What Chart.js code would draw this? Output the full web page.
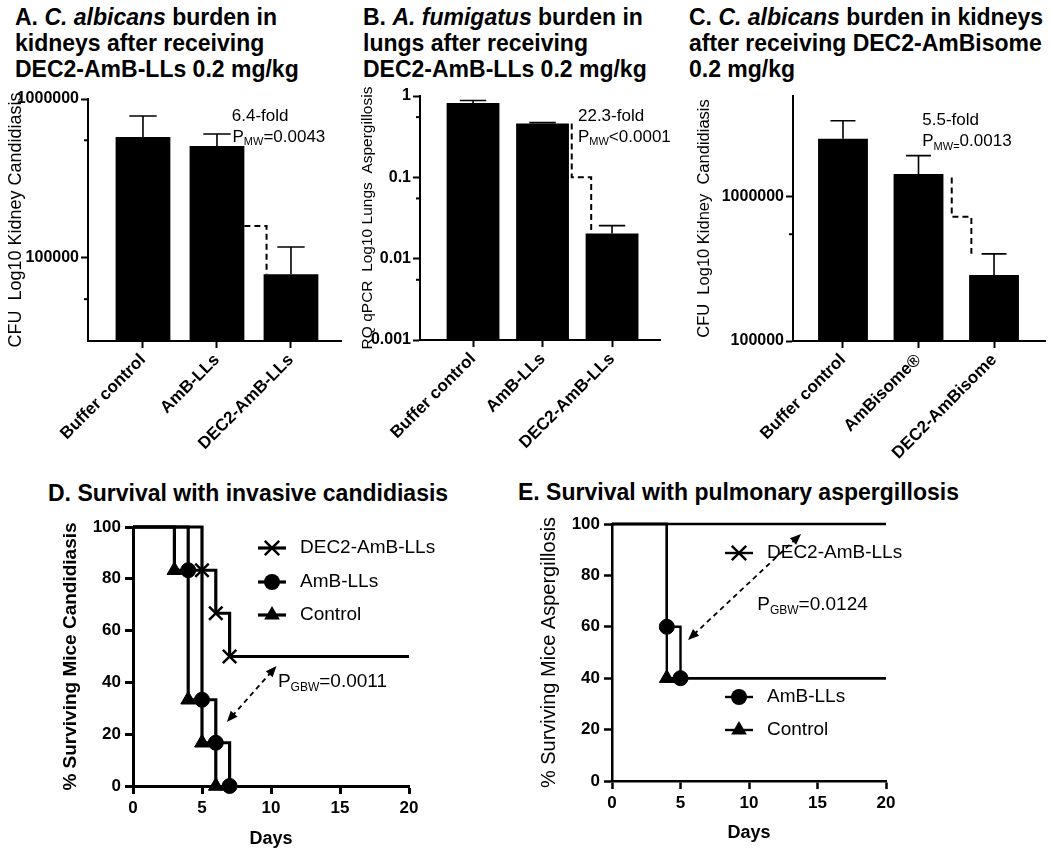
<!DOCTYPE html>
<html>
<head>
<meta charset="utf-8">
<script src="https://cdn.jsdelivr.net/npm/chart.js@4.4.1/dist/chart.umd.min.js"></script>
<style>
  body { margin: 0; background: #fff; }
  #wrap { position: relative; width: 1050px; height: 852px; overflow: hidden; background: #fff;
          font-family: 'Liberation Sans', Arial, sans-serif; color: #000; }
  .ttl { position: absolute; font-weight: bold; font-size: 23px; line-height: 26px; white-space: nowrap; }
  canvas { position: absolute; }
</style>
</head>
<body>
<div id="wrap">
  <div class="ttl" style="left:15px;top:4px">A. <i>C. albicans</i> burden in<br>kidneys after receiving<br>DEC2-AmB-LLs 0.2 mg/kg</div>
  <div class="ttl" style="left:363px;top:4px">B. <i>A. fumigatus</i> burden in<br>lungs after receiving<br>DEC2-AmB-LLs 0.2 mg/kg</div>
  <div class="ttl" style="left:689px;top:4px">C. <i>C. albicans</i> burden in kidneys<br>after receiving DEC2-AmBisome<br>0.2 mg/kg</div>
  <div class="ttl" style="left:48px;top:480px">D. Survival with invasive candidiasis</div>
  <div class="ttl" style="left:518px;top:479px">E. Survival with pulmonary aspergillosis</div>

  <canvas id="chartA" width="350" height="385" style="left:0;top:80px"></canvas>
  <canvas id="chartB" width="340" height="385" style="left:350px;top:80px"></canvas>
  <canvas id="chartC" width="360" height="385" style="left:690px;top:80px"></canvas>
  <canvas id="chartD" width="520" height="347" style="left:0;top:505px"></canvas>
  <canvas id="chartE" width="530" height="347" style="left:520px;top:505px"></canvas>
</div>

<script>
// bar panels: group labels, bar means, top of error bars
const groupsA = ['Buffer control', 'AmB-LLs', 'DEC2-AmB-LLs'];
const meanA = [577000, 506000, 79000];
const errA = [782000, 602000, 117000];

const groupsB = ['Buffer control', 'AmB-LLs', 'DEC2-AmB-LLs'];
const meanB = [0.82, 0.46, 0.0204];
const errB = [0.88, 0.47, 0.0255];

const groupsC = ['Buffer control', 'AmBisome®', 'DEC2-AmBisome'];
const meanC = [2530000, 1440000, 287000];
const errC = [3370000, 1930000, 402000];

// y tick values of the log axes
const ticksA = [100000, 1000000];
const minorA = [55000, 550000];
const ticksB = [0.001, 0.01, 0.1, 1];
const minorB = [0.0055, 0.055, 0.55];
const ticksC = [100000, 1000000];
const minorC = [550000];

// survival curves (days, % surviving)
const dDecDays = [0, 5, 6, 7, 20];
const dDecSurv = [100, 83.3, 66.7, 50, 50];
const dAmbDays = [0, 4, 5, 6, 7];
const dAmbSurv = [100, 83.3, 33.3, 16.7, 0];
const dCtlDays = [0, 3, 4, 5, 6];
const dCtlSurv = [100, 83.3, 33.3, 16.7, 0];

const eDecDays = [0, 20];
const eDecSurv = [100, 100];
const eAmbDays = [0, 4, 5, 20];
const eAmbSurv = [100, 60, 40, 40];
const eCtlDays = [0, 4, 20];
const eCtlSurv = [100, 40, 40];

const FONT = "'Liberation Sans', Arial, sans-serif";
Chart.defaults.font.family = FONT;
Chart.defaults.color = '#000';

// text with subscripts: parts = [[text, isSub], ...]
function drawParts(ctx, x, y, parts, size) {
  let cx = x;
  ctx.textAlign = 'left';
  ctx.textBaseline = 'middle';
  parts.forEach(([t, sub]) => {
    ctx.font = (sub ? Math.round(size * 0.62) : size) + 'px ' + FONT;
    ctx.fillText(t, cx, sub ? y + size * 0.3 : y);
    cx += ctx.measureText(t).width;
  });
}

function marker(ctx, style, x, y, r) {
  ctx.beginPath();
  if (style === 'circle') {
    ctx.arc(x, y, r, 0, Math.PI * 2);
    ctx.fill();
  } else if (style === 'triangle') {
    ctx.moveTo(x, y - r);
    ctx.lineTo(x + r * 0.87, y + r * 0.5);
    ctx.lineTo(x - r * 0.87, y + r * 0.5);
    ctx.closePath();
    ctx.fill();
  } else {
    const d = r * 0.72;
    ctx.moveTo(x - d, y - d); ctx.lineTo(x + d, y + d);
    ctx.moveTo(x + d, y - d); ctx.lineTo(x - d, y + d);
    ctx.stroke();
  }
}

const barExtras = {
  id: 'barExtras',
  afterDatasetsDraw(chart, args, o) {
    const { ctx } = chart;
    const xs = chart.scales.x, ys = chart.scales.y;
    const unit = xs.getPixelForValue(1) - xs.getPixelForValue(0);
    ctx.save();
    ctx.strokeStyle = '#000';
    ctx.fillStyle = '#000';
    // error bars (upper only)
    ctx.lineWidth = 1.6;
    o.errs.forEach((e, i) => {
      const px = xs.getPixelForValue(i);
      const top = ys.getPixelForValue(e);
      const base = ys.getPixelForValue(o.means[i]);
      const cap = unit * o.bar / 4;
      ctx.beginPath();
      ctx.moveTo(px, base); ctx.lineTo(px, top);
      ctx.moveTo(px - cap, top); ctx.lineTo(px + cap, top);
      ctx.stroke();
    });
    // minor ticks
    ctx.lineWidth = 2;
    o.minor.forEach(v => {
      const py = ys.getPixelForValue(v);
      ctx.beginPath();
      ctx.moveTo(chart.chartArea.left - 4, py); ctx.lineTo(chart.chartArea.left, py);
      ctx.stroke();
    });
    // dashed bracket
    const b = o.bracket;
    ctx.setLineDash([6, 4]);
    ctx.lineWidth = 2;
    ctx.beginPath();
    ctx.moveTo(xs.getPixelForValue(b.x1), ys.getPixelForValue(b.y1));
    ctx.lineTo(xs.getPixelForValue(b.x1), ys.getPixelForValue(b.y2));
    ctx.lineTo(xs.getPixelForValue(b.x2), ys.getPixelForValue(b.y2));
    ctx.lineTo(xs.getPixelForValue(b.x2), ys.getPixelForValue(b.y3));
    ctx.stroke();
    ctx.setLineDash([]);
    o.notes.forEach(n => drawParts(ctx, xs.getPixelForValue(n.x), ys.getPixelForValue(n.y), n.parts, 17));
    ctx.restore();
  }
};

function barChart(id, groups, means, errs, cfg) {
  new Chart(document.getElementById(id), {
    type: 'bar',
    data: {
      datasets: [{
        data: means.map((v, i) => ({ x: i, y: v })),
        backgroundColor: '#000',
        borderWidth: 0,
        barPercentage: cfg.bar,
        categoryPercentage: 1
      }]
    },
    options: {
      responsive: false,
      animation: false,
      devicePixelRatio: 1,
      layout: { padding: { left: 0, right: cfg.padR, top: cfg.padT, bottom: 0 } },
      plugins: {
        legend: { display: false },
        tooltip: { enabled: false },
        barExtras: { means: means, errs: errs, bar: cfg.bar, minor: cfg.minor, bracket: cfg.bracket, notes: cfg.notes }
      },
      scales: {
        x: {
          type: 'linear',
          min: cfg.xMin, max: cfg.xMax,
          offset: false,
          afterFit: s => { s.height = cfg.xH; },
          afterBuildTicks: s => { s.ticks = groups.map((g, i) => ({ value: i })); },
          ticks: {
            callback: v => groups[v],
            autoSkip: false, minRotation: 45, maxRotation: 45,
            font: { size: 17, weight: 'bold' }, color: '#000', padding: 2
          },
          grid: { drawOnChartArea: false, offset: false, tickLength: 7, tickWidth: 2, tickColor: '#000' },
          border: { color: '#000', width: 2 }
        },
        y: {
          type: 'logarithmic',
          min: cfg.yMin, max: cfg.yMax,
          afterFit: s => { s.width = cfg.yW; },
          afterBuildTicks: s => { s.ticks = cfg.ticks.map(v => ({ value: v })); },
          ticks: { callback: v => String(v), font: { size: 16, weight: 'bold' }, color: '#000', padding: 2 },
          grid: { drawOnChartArea: false, tickLength: 7, tickWidth: 2, tickColor: '#000' },
          border: { color: '#000', width: 2 },
          title: { display: true, text: cfg.yTitle, font: { size: cfg.titleSize }, color: '#000', padding: { top: cfg.titlePad, bottom: 0 } }
        }
      }
    },
    plugins: [barExtras]
  });
}

barChart('chartA', groupsA, meanA, errA, {
  bar: 0.74, xMin: -0.743, xMax: 2.676, yMin: 30000, yMax: 1000000,
  yW: 88, xH: 124, padT: 19, padR: 9, ticks: ticksA, minor: minorA,
  yTitle: 'CFU  Log10 Kidney Candidiasis', titleSize: 18, titlePad: 5,
  bracket: { x1: 1.37, x2: 1.67, y1: 159000, y2: 159000, y3: meanA[2] },
  notes: [
    { x: 1.2, y: 782000, parts: [['6.4-fold']] },
    { x: 1.21, y: 577000, parts: [['P'], ['MW', 1], ['=0.0043']] }
  ]
});

barChart('chartB', groupsB, meanB, errB, {
  bar: 0.76, xMin: -0.763, xMax: 2.69, yMin: 0.001, yMax: 1,
  yW: 70, xH: 125, padT: 16, padR: 30, ticks: ticksB, minor: minorB,
  yTitle: 'RQ qPCR  Log10 Lungs  Aspergillosis', titleSize: 15.5, titlePad: 8,
  bracket: { x1: 1.42, x2: 1.70, y1: meanB[1], y2: 0.1, y3: meanB[2] },
  notes: [
    { x: 1.51, y: 0.566, parts: [['22.3-fold']] },
    { x: 1.51, y: 0.312, parts: [['P'], ['MW', 1], ['<0.0001']] }
  ]
});

barChart('chartC', groupsC, meanC, errC, {
  bar: 0.66, xMin: -0.662, xMax: 2.675, yMin: 100000, yMax: 5000000,
  yW: 103, xH: 124, padT: 16, padR: 5, ticks: ticksC, minor: minorC,
  yTitle: 'CFU  Log10 Kidney  Candidiasis', titleSize: 16.5, titlePad: 5,
  bracket: { x1: 1.44, x2: 1.70, y1: 1360000, y2: 726000, y3: errC[2] },
  notes: [
    { x: 1.05, y: 3370000, parts: [['5.5-fold']] },
    { x: 1.05, y: 2410000, parts: [['P'], ['MW=', 1], ['0.0013']] }
  ]
});

const survExtras = {
  id: 'survExtras',
  afterDatasetsDraw(chart, args, o) {
    const { ctx } = chart;
    const xs = chart.scales.x, ys = chart.scales.y;
    ctx.save();
    ctx.strokeStyle = '#000';
    ctx.fillStyle = '#000';
    // legend
    o.legend.forEach(l => {
      ctx.lineWidth = o.lw;
      ctx.beginPath();
      ctx.moveTo(o.legX, l.y); ctx.lineTo(o.legX + 28, l.y);
      ctx.stroke();
      ctx.lineWidth = 2.5;
      marker(ctx, l.style, o.legX + 14, l.y, l.style === 'triangle' ? 9 : (l.style === 'cross' ? 10 : 8));
      drawParts(ctx, o.legX + 42, l.y, [[l.label]], 19);
    });
    // dashed double arrow
    const a = o.arrow;
    const x1 = xs.getPixelForValue(a.x1), y1 = ys.getPixelForValue(a.y1);
    const x2 = xs.getPixelForValue(a.x2), y2 = ys.getPixelForValue(a.y2);
    const ang = Math.atan2(y2 - y1, x2 - x1);
    ctx.lineWidth = 1.8;
    ctx.setLineDash([5, 4]);
    ctx.beginPath();
    ctx.moveTo(x1 + 8 * Math.cos(ang), y1 + 8 * Math.sin(ang));
    ctx.lineTo(x2 - 8 * Math.cos(ang), y2 - 8 * Math.sin(ang));
    ctx.stroke();
    ctx.setLineDash([]);
    [[x1, y1, ang + Math.PI], [x2, y2, ang]].forEach(([hx, hy, t]) => {
      ctx.beginPath();
      ctx.moveTo(hx, hy);
      ctx.lineTo(hx - 11 * Math.cos(t) + 4.5 * Math.sin(t), hy - 11 * Math.sin(t) - 4.5 * Math.cos(t));
      ctx.lineTo(hx - 11 * Math.cos(t) - 4.5 * Math.sin(t), hy - 11 * Math.sin(t) + 4.5 * Math.cos(t));
      ctx.closePath();
      ctx.fill();
    });
    drawParts(ctx, xs.getPixelForValue(o.note.x), ys.getPixelForValue(o.note.y), o.note.parts, 19);
    ctx.restore();
  }
};

function survChart(id, series, cfg) {
  new Chart(document.getElementById(id), {
    type: 'line',
    data: {
      datasets: series.map(s => ({
        label: s.label,
        data: s.days.map((d, i) => ({ x: d, y: s.surv[i] })),
        stepped: true,
        borderColor: '#000',
        borderWidth: cfg.lw,
        fill: false,
        clip: 12,
        pointStyle: s.style,
        pointRadius: s.days.map((d, i) => (i === 0 || d === 20) ? 0 : (s.style === 'triangle' ? 8.5 : (s.style === 'crossRot' ? 9.5 : 7.5))),
        pointBackgroundColor: '#000',
        pointBorderColor: '#000',
        pointBorderWidth: s.style === 'crossRot' ? 2.5 : 1
      }))
    },
    options: {
      responsive: false,
      animation: false,
      devicePixelRatio: 1,
      layout: { padding: { left: 0, right: cfg.padR, top: cfg.padT, bottom: 0 } },
      plugins: {
        legend: { display: false },
        tooltip: { enabled: false },
        survExtras: { legend: cfg.legend, legX: cfg.legX, lw: cfg.lw, arrow: cfg.arrow, note: cfg.note }
      },
      scales: {
        x: {
          type: 'linear', min: 0, max: 20,
          afterFit: s => { s.height = cfg.xH; },
          ticks: { stepSize: 5, font: { size: 17, weight: 'bold' }, color: '#000', padding: 4 },
          grid: { drawOnChartArea: false, tickLength: 8, tickWidth: cfg.axW, tickColor: '#000' },
          border: { color: '#000', width: cfg.axW },
          title: { display: true, text: 'Days', font: { size: 18, weight: 'bold' }, color: '#000', padding: { top: 0, bottom: cfg.daysPad } }
        },
        y: {
          type: 'linear', min: 0, max: 100,
          afterFit: s => { s.width = cfg.yW; },
          ticks: { stepSize: 20, font: { size: 17, weight: 'bold' }, color: '#000', padding: 4 },
          grid: { drawOnChartArea: false, tickLength: 8, tickWidth: cfg.axW, tickColor: '#000' },
          border: { color: '#000', width: cfg.axW },
          title: { display: true, text: cfg.yTitle, font: cfg.yFont, color: '#000', padding: { top: cfg.titlePad, bottom: 0 } }
        }
      }
    },
    plugins: [survExtras]
  });
}

survChart('chartD', [
  { label: 'DEC2-AmB-LLs', style: 'crossRot', days: dDecDays, surv: dDecSurv },
  { label: 'AmB-LLs', style: 'circle', days: dAmbDays, surv: dAmbSurv },
  { label: 'Control', style: 'triangle', days: dCtlDays, surv: dCtlSurv }
], {
  lw: 3.2, axW: 3, yW: 133, xH: 66, padT: 22, padR: 111, titlePad: 59, daysPad: 2,
  yTitle: '% Surviving Mice Candidiasis', yFont: { size: 19, weight: 'bold' },
  legX: 258,
  legend: [
    { label: 'DEC2-AmB-LLs', style: 'cross', y: 43 },
    { label: 'AmB-LLs', style: 'circle', y: 77 },
    { label: 'Control', style: 'triangle', y: 110 }
  ],
  arrow: { x1: 6.8, y1: 24.7, x2: 10.4, y2: 46.3 },
  note: { x: 10.5, y: 40.2, parts: [['P'], ['GBW', 1], ['=0.0011']] }
});

survChart('chartE', [
  { label: 'DEC2-AmB-LLs', style: 'crossRot', days: eDecDays, surv: eDecSurv },
  { label: 'AmB-LLs', style: 'circle', days: eAmbDays, surv: eAmbSurv },
  { label: 'Control', style: 'triangle', days: eCtlDays, surv: eCtlSurv }
], {
  lw: 2.4, axW: 2.5, yW: 92, xH: 71, padT: 19, padR: 164, titlePad: 17, daysPad: 8,
  yTitle: '% Surviving Mice Aspergillosis', yFont: { size: 20 },
  legX: 205,
  legend: [
    { label: 'DEC2-AmB-LLs', style: 'cross', y: 48 },
    { label: 'AmB-LLs', style: 'circle', y: 192 },
    { label: 'Control', style: 'triangle', y: 225 }
  ],
  arrow: { x1: 5.55, y1: 54.9, x2: 13.8, y2: 96.1 },
  note: { x: 10.6, y: 68.5, parts: [['P'], ['GBW', 1], ['=0.0124']] }
});
</script>
</body>
</html>
